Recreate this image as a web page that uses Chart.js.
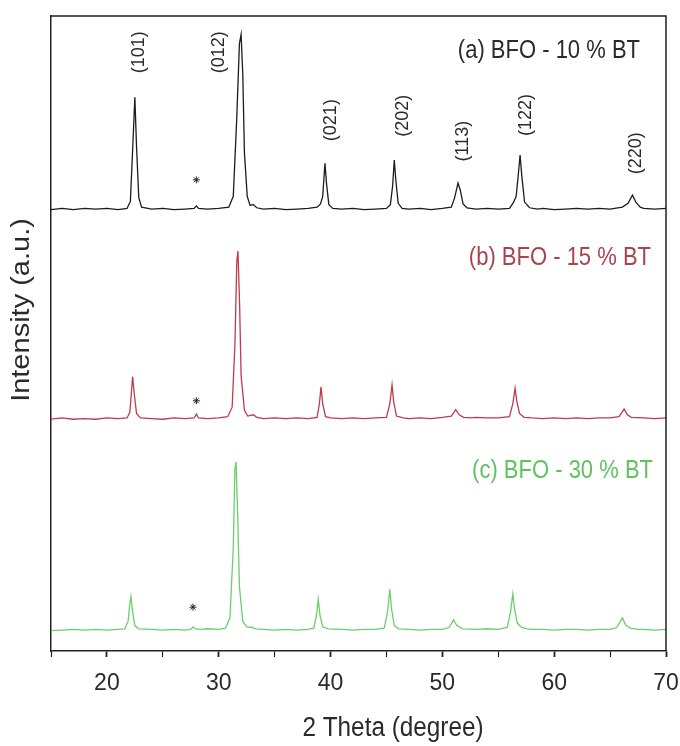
<!DOCTYPE html>
<html>
<head>
<meta charset="utf-8">
<script src="https://cdn.jsdelivr.net/npm/chart.js@4.4.1/dist/chart.umd.min.js"></script>
<style>
    html, body { margin: 0; padding: 0; background: #ffffff; }
    #wrap { width: 680px; height: 746px; }
</style>
</head>
<body>
<div id="wrap"><canvas id="xrdChart" width="680" height="746"></canvas></div>
<script>
// XRD patterns of BFO - x% BT (intensity in a.u. above each baseline)

// (a) BFO - 10 % BT
const thetaA = [15, 16, 17, 18, 19, 20, 21, 21.8, 22.1, 22.3, 22.5, 22.65, 22.85, 23.1, 24, 25, 26, 27, 27.8, 28.0, 28.2, 29, 30,
    30.9, 31.3, 31.6, 31.85, 32.0, 32.15, 32.3, 32.55, 32.8, 33.1, 33.4, 34, 35, 36, 37, 38, 38.8, 39.1, 39.3, 39.5, 39.65, 39.85, 40.2,
    41, 42, 43, 44, 45, 45.35, 45.55, 45.7, 45.85, 46.05, 46.4, 47, 48, 49, 50, 50.8, 51.1, 51.4, 51.6, 51.85, 52.2, 53, 54, 55, 56,
    56.35, 56.6, 56.8, 56.95, 57.1, 57.35, 57.8, 58.5, 59, 60, 61, 62, 63, 64, 65, 66.1, 66.6, 67.0, 67.3, 67.7, 68, 69, 70];
const intensityA = [1, 3, 1, 3, 2, 3, 1, 3, 14, 95, 178, 100, 20, 5, 2, 3, 1, 2, 3, 7, 3, 2, 3,
    5, 22, 140, 262, 277, 215, 90, 22, 8, 9, 4, 2, 3, 1, 2, 3, 5, 10, 22, 74, 40, 9, 3,
    2, 3, 1, 2, 3, 9, 38, 79, 45, 11, 3, 2, 3, 1, 3, 5, 20, 43, 32, 10, 4, 2, 3, 2, 3,
    12, 22, 58, 87, 55, 13, 4, 2, 3, 1, 2, 3, 2, 3, 2, 5, 11, 24, 13, 5, 3, 2, 3];

// (b) BFO - 15 % BT
const thetaB = [15, 16, 17, 18, 19, 20, 21, 21.8, 22.05, 22.2, 22.3, 22.45, 22.65, 23.0, 24, 25, 26, 27, 27.8, 28.0, 28.2, 29, 30,
    30.8, 31.2, 31.45, 31.62, 31.72, 31.87, 32.0, 32.3, 32.6, 33.1, 33.4, 34, 35, 36, 37, 38, 38.8, 39.0, 39.15, 39.3, 39.55, 40,
    41, 42, 43, 44, 45.0, 45.3, 45.5, 45.65, 45.9, 46.5, 47, 48, 49, 50, 50.8, 51.2, 51.5, 51.9, 52.5, 53, 54, 55, 56.0,
    56.3, 56.5, 56.65, 56.9, 57.3, 58, 59, 60, 61, 62, 63, 64, 65, 65.8, 66.25, 66.55, 66.9, 68, 69, 70];
const intensityB = [1, 3, 1, 2, 1, 3, 2, 3, 12, 45, 68, 40, 10, 3, 2, 1, 3, 2, 3, 9, 3, 2, 3,
    5, 20, 120, 250, 266, 180, 70, 15, 6, 8, 4, 2, 3, 2, 3, 2, 4, 25, 52, 25, 5, 3,
    2, 3, 2, 3, 4, 25, 55, 28, 6, 3, 2, 3, 2, 4, 6, 16, 8, 4, 3, 4, 3, 3, 5,
    25, 50, 30, 10, 4, 3, 2, 3, 2, 3, 2, 3, 3, 5, 17, 8, 4, 3, 2, 3];

// (c) BFO - 30 % BT
const thetaC = [15, 16, 17, 18, 19, 20, 21, 21.6, 21.9, 22.0, 22.15, 22.3, 22.5, 22.85, 24, 25, 26, 27, 27.5, 27.7, 27.9, 28.5, 29, 30,
    30.6, 31.0, 31.3, 31.45, 31.55, 31.7, 31.85, 32.15, 32.5, 33.0, 33.3, 34, 35, 36, 37, 38, 38.5, 38.75, 38.9, 39.05, 39.3, 39.8,
    41, 42, 43, 44, 44.8, 45.1, 45.3, 45.45, 45.7, 46.1, 47, 48, 49, 50, 50.6, 51.0, 51.3, 51.8, 53, 54, 55, 55.8,
    56.1, 56.3, 56.45, 56.7, 57.1, 57.6, 58, 59, 60, 61, 62, 63, 64, 65, 65.6, 66.1, 66.4, 66.8, 67.5, 68, 69, 70];
const intensityC = [0, 1, 2, 1, 2, 1, 2, 3, 15, 35, 54, 30, 8, 3, 2, 1, 2, 1, 2, 6, 3, 2, 3, 2,
    4, 20, 130, 255, 266, 180, 70, 15, 6, 5, 3, 2, 1, 2, 1, 2, 4, 25, 49, 25, 6, 3,
    2, 1, 2, 2, 4, 30, 65, 35, 8, 3, 2, 1, 2, 2, 5, 17, 8, 3, 2, 3, 2, 5,
    30, 58, 35, 12, 5, 3, 2, 2, 1, 2, 2, 1, 2, 2, 5, 20, 9, 4, 2, 2, 1, 2];

// vertical stacking of the three patterns (a.u.)
const seriesOffsets = [694, 364, 32];
const seriesNames = ['(a) BFO - 10 % BT', '(b) BFO - 15 % BT', '(c) BFO - 30 % BT'];

// impurity peak markers (*)
const starTheta = [28.0, 28.0, 27.7];
const starHeight = [48, 30, 37];

// Miller indices of the (a) pattern
const hklLabels = ['(101)', '(012)', '(021)', '(202)', '(113)', '(122)', '(220)'];
const hklTheta = [22.87, 30.03, 40.04, 46.48, 51.85, 57.49, 67.32];
const hklLevel = [943, 943, 836, 843, 803, 844, 784];

// x axis
const xTickLabels = ['20', '30', '40', '50', '60', '70'];

const lineColors = ['#1c1c1c', '#c03a4e', '#6ccf6c'];
const textColors = ['#2a2a2a', '#a8434f', '#5fc25f'];

function toPoints(xs, ys, offset) {
    return xs.map((x, i) => ({ x: x, y: ys[i] + offset }));
}

const patternSets = [
    toPoints(thetaA, intensityA, seriesOffsets[0]),
    toPoints(thetaB, intensityB, seriesOffsets[1]),
    toPoints(thetaC, intensityC, seriesOffsets[2])
];

const datasets = patternSets.map((pts, i) => ({
    label: seriesNames[i],
    data: pts,
    borderColor: lineColors[i],
    borderWidth: 1.3,
    pointRadius: 0,
    fill: false,
    tension: 0
}));

datasets.push({
    type: 'scatter',
    label: 'impurity',
    data: starTheta.map((x, i) => ({ x: x, y: starHeight[i] + seriesOffsets[i] })),
    pointStyle: 'star',
    pointRadius: 3.5,
    borderColor: '#222222',
    borderWidth: 1,
    backgroundColor: '#222222'
});

// frame, series captions, hkl labels and axis titles
const decorPlugin = {
    id: 'decor',
    afterDraw(chart) {
        const ctx = chart.ctx;
        const area = chart.chartArea;
        const xs = chart.scales.x;
        const ys = chart.scales.y;

        ctx.save();
        ctx.strokeStyle = '#222222';
        ctx.lineWidth = 1.5;
        ctx.beginPath();
        ctx.moveTo(area.left, area.top);
        ctx.lineTo(area.right, area.top);
        ctx.lineTo(area.right, area.bottom);
        ctx.stroke();

        // captions, right aligned, slightly narrow like the original
        const capRight = [640, 651, 653];
        const capY = [51, 258, 471];
        ctx.font = '25px "Liberation Sans", Arial, sans-serif';
        ctx.textBaseline = 'middle';
        ctx.textAlign = 'right';
        seriesNames.forEach((name, i) => {
            ctx.save();
            ctx.fillStyle = textColors[i];
            ctx.translate(capRight[i], capY[i]);
            ctx.scale(0.88, 1);
            ctx.fillText(name, 0, 0);
            ctx.restore();
        });

        // hkl labels, rotated
        ctx.font = '18px "Liberation Sans", Arial, sans-serif';
        ctx.fillStyle = '#2a2a2a';
        ctx.textAlign = 'center';
        hklLabels.forEach((lab, i) => {
            ctx.save();
            ctx.translate(xs.getPixelForValue(hklTheta[i]), ys.getPixelForValue(hklLevel[i]));
            ctx.rotate(-Math.PI / 2);
            ctx.fillText(lab, 0, 0);
            ctx.restore();
        });

        // axis titles
        ctx.fillStyle = '#2a2a2a';
        ctx.save();
        ctx.font = '27px "Liberation Sans", Arial, sans-serif';
        ctx.translate(393, 729);
        ctx.scale(0.9, 1);
        ctx.fillText('2 Theta (degree)', 0, 0);
        ctx.restore();

        ctx.save();
        ctx.font = '29px "Liberation Sans", Arial, sans-serif';
        ctx.translate(22, 310);
        ctx.rotate(-Math.PI / 2);
        ctx.scale(1, 0.9);
        ctx.fillText('Intensity (a.u.)', 0, 0);
        ctx.restore();

        ctx.restore();
    }
};

const ctx = document.getElementById('xrdChart').getContext('2d');

new Chart(ctx, {
    type: 'line',
    data: { datasets: datasets },
    options: {
        responsive: false,
        animation: false,
        layout: { padding: { top: 16, right: 14, left: 0, bottom: 0 } },
        plugins: {
            legend: { display: false },
            tooltip: { enabled: false }
        },
        scales: {
            x: {
                type: 'linear',
                min: 15,
                max: 70,
                afterFit: function(scale) {
                    scale.height = 95;
                    scale.paddingLeft = 0;
                    scale.paddingRight = 0;
                },
                border: { display: true, color: '#222222', width: 1.5 },
                grid: {
                    drawOnChartArea: false,
                    drawTicks: true,
                    tickLength: 6,
                    tickColor: '#222222',
                    tickWidth: function(c) { return c.tick && c.tick.value % 10 === 0 ? 1.8 : 1.2; }
                },
                ticks: {
                    stepSize: 5,
                    padding: 13,
                    color: '#2a2a2a',
                    font: { family: '"Liberation Sans", Arial, sans-serif', size: 23 },
                    maxRotation: 0,
                    autoSkip: false,
                    callback: function(value) {
                        const s = String(value);
                        return xTickLabels.includes(s) ? s : '';
                    }
                }
            },
            y: {
                type: 'linear',
                min: 0,
                max: 1000,
                afterFit: function(scale) { scale.width = 51; },
                border: { display: true, color: '#222222', width: 1.5 },
                grid: { display: false },
                ticks: { display: false }
            }
        }
    },
    plugins: [decorPlugin]
});
</script>
</body>
</html>
